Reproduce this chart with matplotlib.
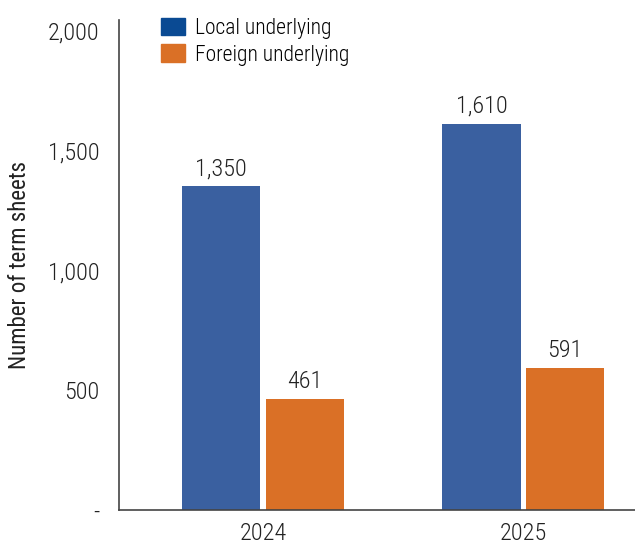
import matplotlib
matplotlib.use("Agg")
import matplotlib.pyplot as plt
from matplotlib.patches import Patch
import numpy as np

years = ["2024", "2025"]
local_vals = [1350, 1610]
foreign_vals = [461, 591]
y_ticks = [0, 500, 1000, 1500, 2000]
y_tick_labels = ["-", "500", "1,000", "1,500", "2,000"]

plt.rcParams["font.family"] = ["Roboto Condensed", "DejaVu Sans"]
plt.rcParams["font.weight"] = "light"
plt.rcParams["font.size"] = 15

blue = "#3A60A0"
orange = "#DA7026"
legend_blue = "#0A4A93"
text_col = "#222222"

fig = plt.figure(figsize=(6.35, 5.47), dpi=100)
ax = fig.add_axes([0.187, 0.068, 0.813, 0.895])

x = np.arange(len(years))
width = 0.3
offset = 0.16

b1 = ax.bar(x - offset, local_vals, width, color=blue)
b2 = ax.bar(x + offset, foreign_vals, width, color=orange)

# value labels above each bar
for bars, vals in [(b1, local_vals), (b2, foreign_vals)]:
    for bar, v in zip(bars, vals):
        ax.text(bar.get_x() + bar.get_width() / 2, v + 25, f"{v:,}",
                ha="center", va="bottom", color=text_col, fontsize=17.5)

ax.set_xlim(-0.554, 1.43)
ax.set_ylim(0, 2042)
ax.set_yticks(y_ticks)
ax.set_yticklabels(y_tick_labels)
ax.set_xticks(x)
ax.set_xticklabels(years)
ax.tick_params(axis="both", length=0, colors=text_col, labelsize=17.5)
ax.tick_params(axis="y", pad=14)
ax.tick_params(axis="x", pad=9)

ax.spines["top"].set_visible(False)
ax.spines["right"].set_visible(False)
for side in ("left", "bottom"):
    ax.spines[side].set_color("#444444")
    ax.spines[side].set_linewidth(1.2)

ax.set_ylabel("Number of term sheets", color=text_col, fontsize=16.5, labelpad=12)

handles = [Patch(color=legend_blue), Patch(color=orange)]
ax.legend(handles, ["Local underlying", "Foreign underlying"],
          loc="upper left", bbox_to_anchor=(0.045, 1.045), frameon=False,
          fontsize=15.5, handlelength=1.1, handleheight=0.9,
          handletextpad=0.45, labelspacing=0.25)

fig.savefig("out.png", dpi=100)
